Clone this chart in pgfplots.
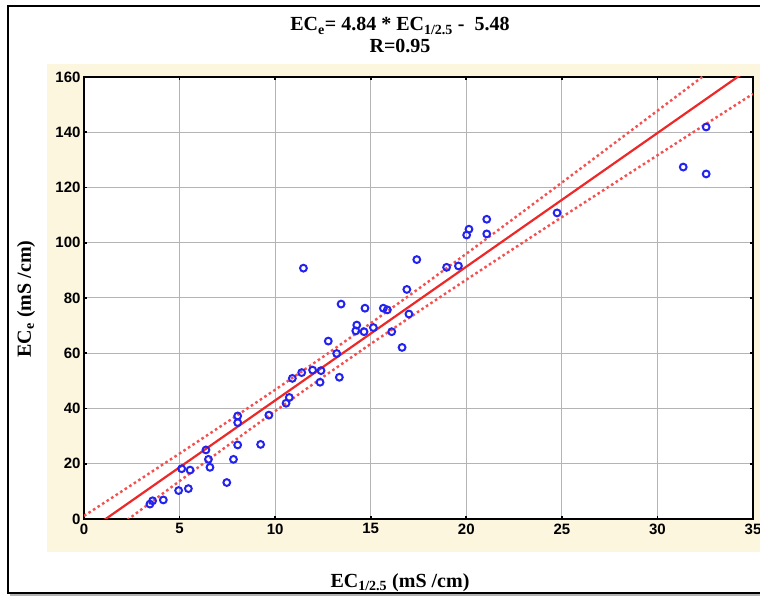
\documentclass[border=0pt]{standalone}
\usepackage{fontspec}
\setmainfont{Liberation Serif}
\newfontfamily\ticksf{Liberation Sans}
\usepackage{pgfplots}
\pgfplotsset{compat=1.18}
\definecolor{beige}{RGB}{253,246,222}
\definecolor{ptblue}{RGB}{35,35,240}
\definecolor{fitred}{RGB}{238,40,40}
\definecolor{bandred}{RGB}{245,80,80}
\definecolor{gridgray}{RGB}{180,180,180}

\begin{document}
\begin{tikzpicture}[x=1pt,y=1pt]
\useasboundingbox (0,0) rectangle (760,597);
% background and frame
\fill[beige] (47,45) rectangle (765,533);
\draw[gray!60, line width=1.5pt] (10,2) -- (765,2);
\draw[line width=1.4pt] (8,591) rectangle (765,4);

\begin{axis}[
  at={(84pt,78pt)}, anchor=south west,
  scale only axis, width=669pt, height=442pt,
  xmin=0, xmax=35, ymin=0, ymax=160,
  xtick={0,5,...,35}, ytick={0,20,...,160},
  axis background/.style={fill=white},
  grid=major, major grid style={gridgray, line width=1pt},
  axis line style={black, line width=1.8pt},
  tick align=inside, major tick length=3pt,
  tick style={black, line width=1.6pt},
  /pgf/number format/assume math mode=true,
  tick label style={font=\ticksf\bfseries\fontsize{15}{16}\selectfont},
  xticklabel style={yshift=-1pt},
  clip=true,
]
% 95% confidence bands
\addplot[bandred, line width=2.4pt, dash pattern=on 2.6pt off 2.8pt] coordinates {
 (0,1.12)(2.5,12.37)(5,23.70)(7.5,35.15)(10,46.78)(12.5,58.67)(15,70.86)
 (17.5,83.33)(20,96.02)(22.5,108.85)(25,121.77)(27.5,134.76)(30,147.78)
 (32.5,160.84)(35,173.9)};
\addplot[bandred, line width=2.4pt, dash pattern=on 2.6pt off 2.8pt] coordinates {
 (0,-12.08)(2.5,0.87)(5,13.74)(7.5,26.49)(10,39.06)(12.5,51.37)(15,63.38)
 (17.5,75.11)(20,86.62)(22.5,97.99)(25,109.27)(27.5,120.48)(30,131.66)
 (32.5,142.80)(35,153.9)};
% regression line ECe = 4.84*EC - 5.48
\addplot[fitred, line width=2.2pt] coordinates {(0,-5.48)(35,163.92)};
% observations
\addplot[only marks, mark=o, mark size=3.4pt, ptblue, mark options={line width=2pt}] coordinates {
 (3.45,5.4)(3.59,6.6)(4.15,6.9)(4.95,10.3)(5.46,11.0)(5.11,18.2)(5.55,17.7)
 (6.38,25.0)(6.51,21.6)(6.59,18.7)(7.47,13.2)(7.82,21.6)(8.04,26.8)(8.04,34.9)
 (8.04,37.3)(9.24,27.0)(9.67,37.6)(10.57,41.9)(10.74,44.0)(10.9,50.9)(11.39,53.0)
 (11.48,90.8)(11.96,53.9)(12.40,53.7)(12.35,49.5)(12.78,64.4)(13.22,59.9)
 (13.36,51.3)(13.45,77.8)(14.22,68.1)(14.27,70.2)(14.65,67.8)(14.70,76.3)
 (15.14,69.3)(15.66,76.3)(15.87,75.7)(16.1,67.8)(16.64,62.1)(16.89,83.1)
 (17.0,74.2)(17.41,93.9)(18.97,91.1)(19.59,91.6)(20.02,102.8)(20.14,104.9)
 (21.07,108.5)(21.07,103.2)(24.75,110.8)(31.35,127.4)(32.55,124.9)(32.55,141.9)};
\end{axis}

% titles and axis labels
\node[anchor=base, font=\bfseries\fontsize{20}{22}\selectfont] at (400,566)
  {EC\textsubscript{e}= 4.84 * EC\textsubscript{1/2.5} -~~5.48};
\node[anchor=base, font=\bfseries\fontsize{20}{22}\selectfont] at (400,544) {R=0.95};
\node[anchor=base, font=\bfseries\fontsize{20}{22}\selectfont] at (400,10)
  {EC\textsubscript{1/2.5} (mS /cm)};
\node[rotate=90, font=\bfseries\fontsize{20}{22}\selectfont] at (26,298)
  {EC\textsubscript{e} (mS /cm)};
\end{tikzpicture}
\end{document}
